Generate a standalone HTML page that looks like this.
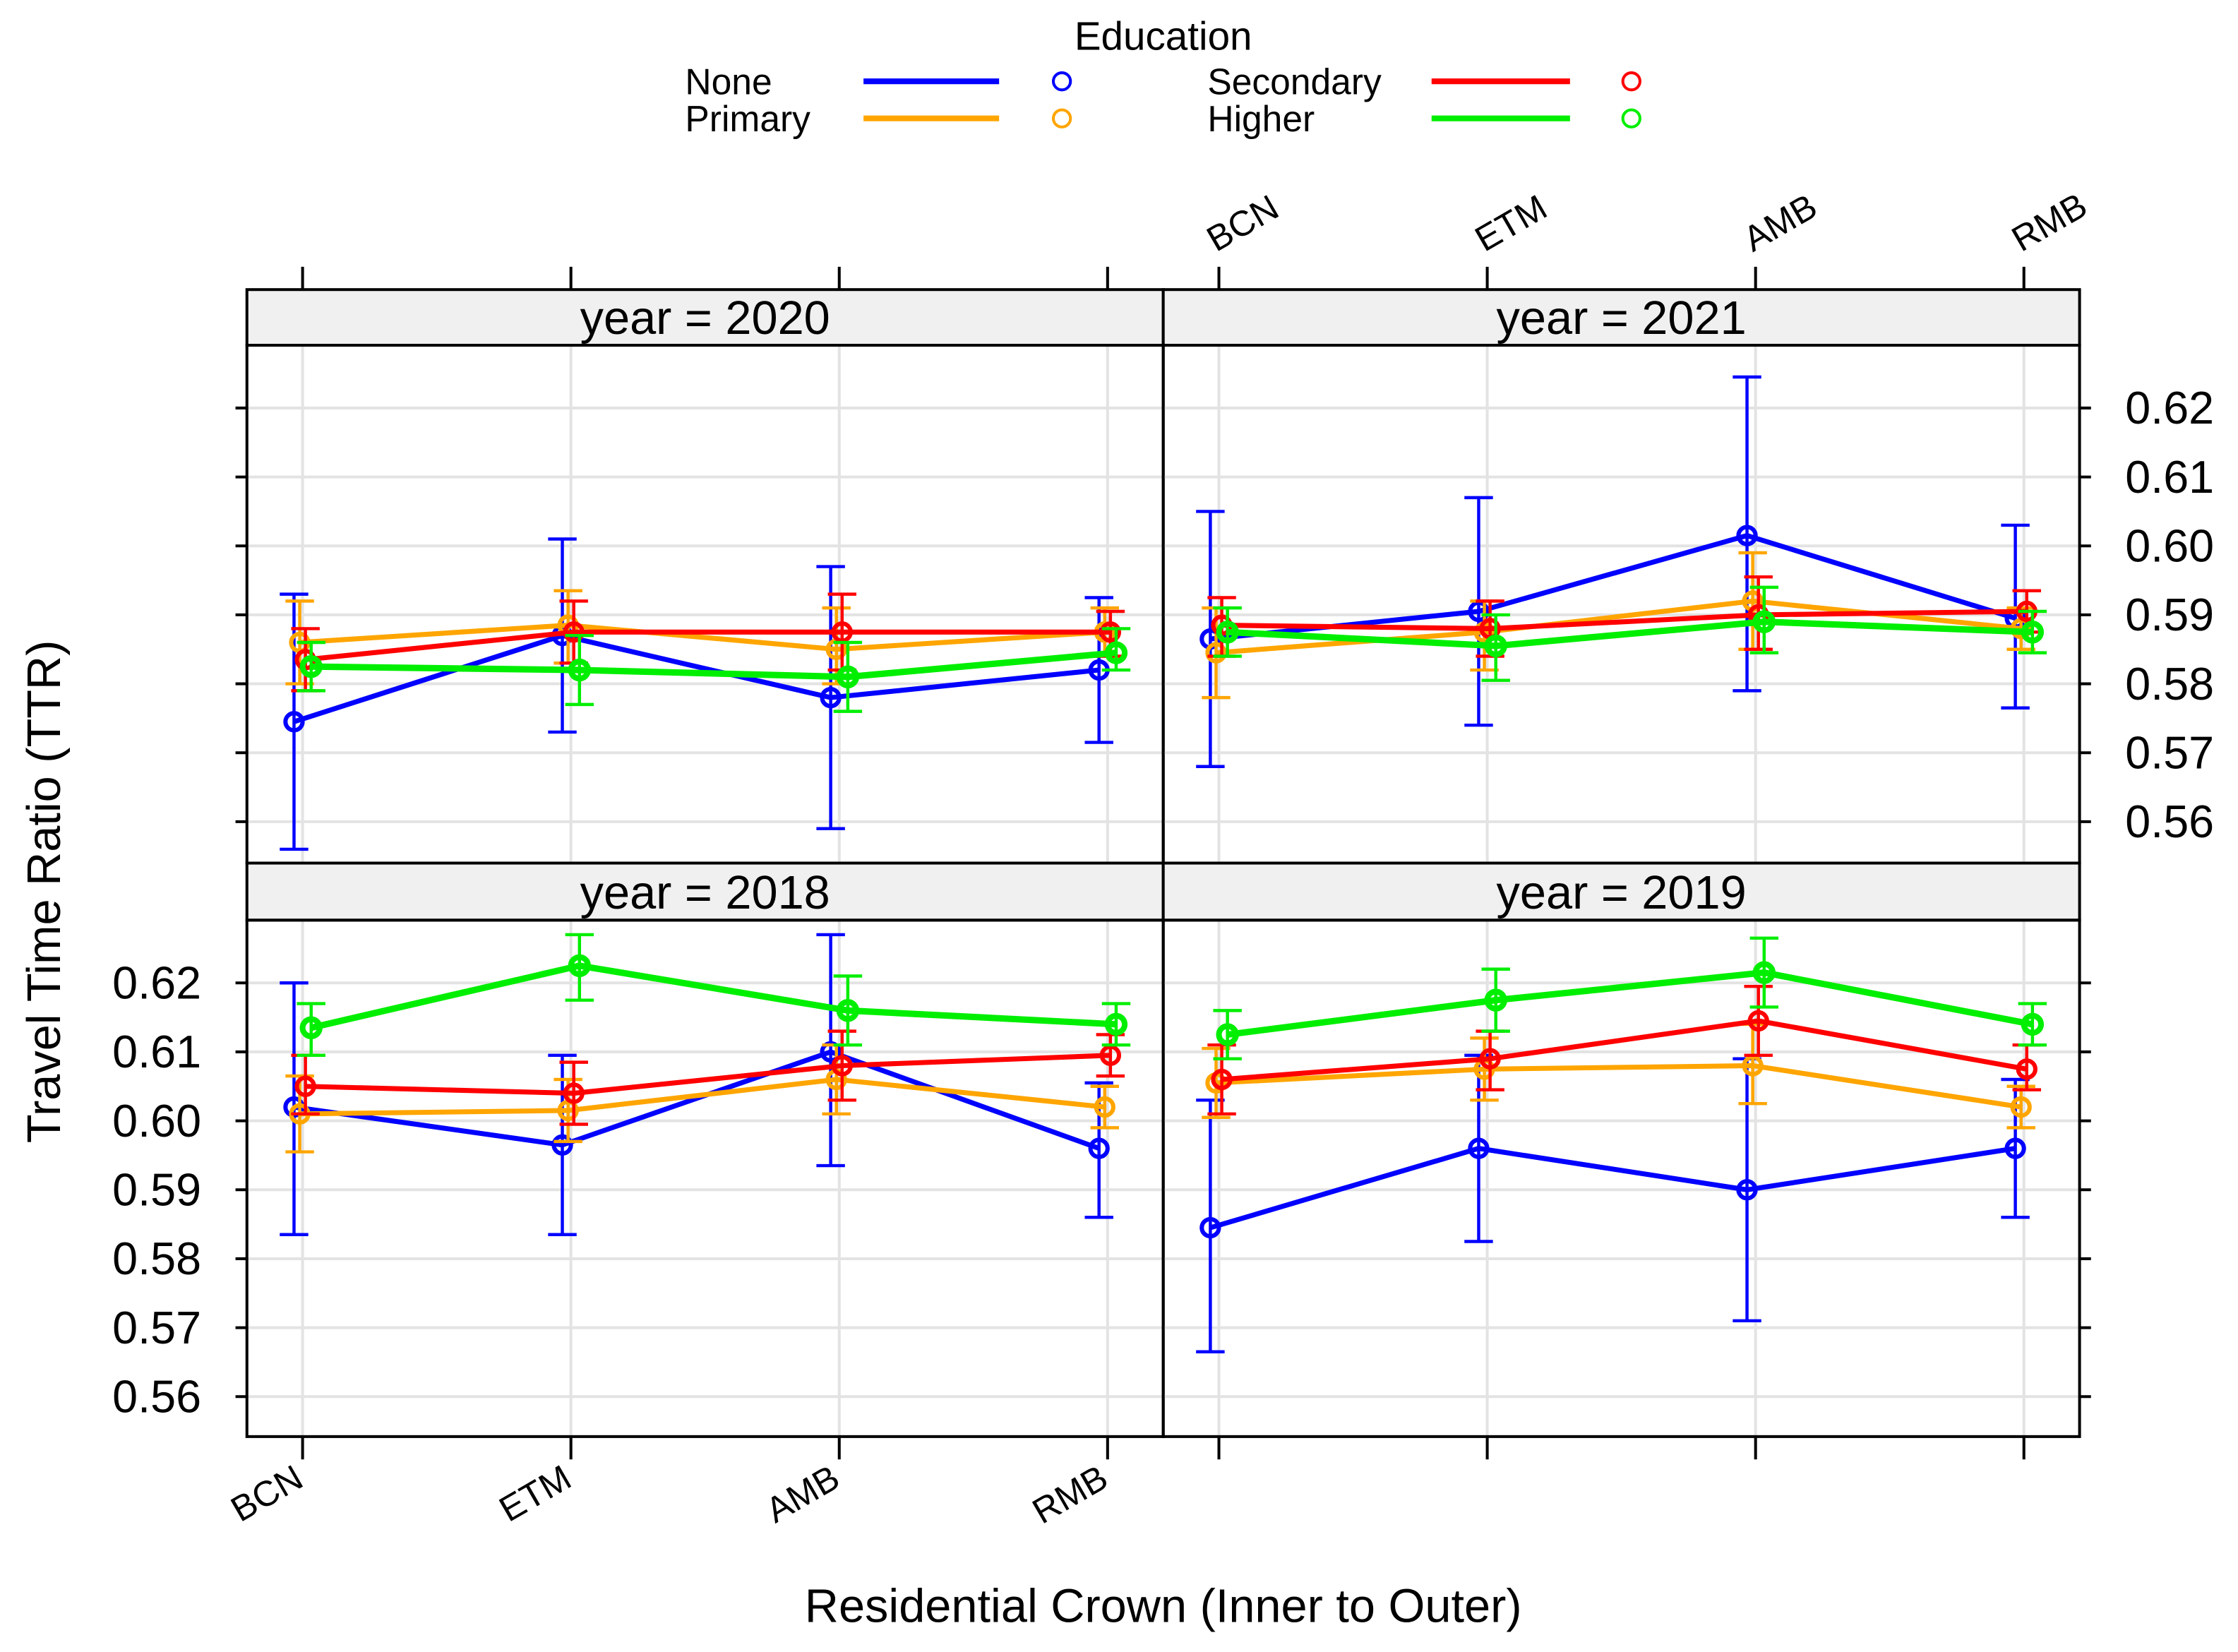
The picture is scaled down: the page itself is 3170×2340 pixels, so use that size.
<!DOCTYPE html>
<html><head><meta charset="utf-8"><style>html,body{margin:0;padding:0;background:#fff}svg{display:block}text{font-family:"Liberation Sans",Arial,sans-serif}</style></head>
<body>
<svg id="chart" width="3170" height="2340" viewBox="0 0 1568 1158" preserveAspectRatio="none" xmlns="http://www.w3.org/2000/svg">
<g id="legend">
<text x="815" y="35" font-size="28" text-anchor="middle">Education</text>
<g><text x="480" y="66" font-size="25.5">None</text><line x1="605" y1="57" x2="700" y2="57" stroke="#0000ff" stroke-width="4"/><circle cx="744" cy="57" r="6" fill="none" stroke="#0000ff" stroke-width="2"/></g>
<g><text x="480" y="92" font-size="25.5">Primary</text><line x1="605" y1="83" x2="700" y2="83" stroke="#ffa500" stroke-width="4"/><circle cx="744" cy="83" r="6" fill="none" stroke="#ffa500" stroke-width="2"/></g>
<g><text x="846" y="66" font-size="25.5">Secondary</text><line x1="1003" y1="57" x2="1100" y2="57" stroke="#ff0000" stroke-width="4"/><circle cx="1143" cy="57" r="6" fill="none" stroke="#ff0000" stroke-width="2"/></g>
<g><text x="846" y="92" font-size="25.5">Higher</text><line x1="1003" y1="83" x2="1100" y2="83" stroke="#00ee00" stroke-width="4"/><circle cx="1143" cy="83" r="6" fill="none" stroke="#00ee00" stroke-width="2"/></g>
</g>
<text x="42" y="625" font-size="33" text-anchor="middle" transform="rotate(-90 42 625)">Travel Time Ratio (TTR)</text>
<text x="815" y="1137" font-size="33" text-anchor="middle">Residential Crown (Inner to Outer)</text>
<g id="plot"></g>
</svg>
<script>
const categories = ["BCN","ETM","AMB","RMB"];
const seriesNames = ["None","Primary","Secondary","Higher"];
const yTicks = [0.56,0.57,0.58,0.59,0.60,0.61,0.62];
const yTickLabels = ["0.56","0.57","0.58","0.59","0.60","0.61","0.62"];
const panelYears = ["2020","2021","2018","2019"];
// values per panel: [None, Primary, Secondary, Higher]
const y2020 = [[0.5745,0.587,0.578,0.582],[0.586,0.5885,0.585,0.5875],[0.5835,0.5875,0.5875,0.5875],[0.5825,0.582,0.581,0.5845]];
const lo2020 = [[0.556,0.573,0.559,0.5715],[0.580,0.583,0.580,0.584],[0.579,0.583,0.582,0.584],[0.579,0.577,0.576,0.582]];
const hi2020 = [[0.593,0.601,0.597,0.5925],[0.592,0.5935,0.591,0.591],[0.588,0.592,0.593,0.5905],[0.586,0.587,0.586,0.588]];
const y2021 = [[0.5865,0.5905,0.6015,0.5895],[0.5845,0.5875,0.592,0.588],[0.5885,0.588,0.590,0.5905],[0.5875,0.5855,0.589,0.5875]];
const lo2021 = [[0.568,0.574,0.579,0.5765],[0.578,0.582,0.585,0.585],[0.584,0.584,0.585,0.5875],[0.584,0.5805,0.5845,0.5845]];
const hi2021 = [[0.605,0.607,0.6245,0.603],[0.591,0.592,0.599,0.591],[0.5925,0.592,0.5955,0.5935],[0.591,0.590,0.594,0.5905]];
const y2018 = [[0.602,0.5965,0.610,0.596],[0.601,0.6015,0.606,0.602],[0.605,0.604,0.608,0.6095],[0.6135,0.6225,0.616,0.614]];
const lo2018 = [[0.5835,0.5835,0.5935,0.586],[0.5955,0.597,0.601,0.599],[0.601,0.5995,0.603,0.6065],[0.6095,0.6175,0.611,0.611]];
const hi2018 = [[0.620,0.6095,0.627,0.6055],[0.6065,0.606,0.611,0.605],[0.6095,0.6085,0.613,0.6125],[0.617,0.627,0.621,0.617]];
const y2019 = [[0.5845,0.596,0.590,0.596],[0.6055,0.6075,0.608,0.602],[0.606,0.609,0.6145,0.6075],[0.6125,0.6175,0.6215,0.614]];
const lo2019 = [[0.5665,0.5825,0.571,0.586],[0.6005,0.603,0.6025,0.599],[0.601,0.6045,0.6095,0.6045],[0.609,0.613,0.6165,0.611]];
const hi2019 = [[0.603,0.6095,0.609,0.606],[0.6105,0.612,0.614,0.605],[0.611,0.613,0.6195,0.611],[0.616,0.622,0.6265,0.617]];

const colors = ["#0000ff","#ffa500","#ff0000","#00ee00"];
const dodge = [-6,-2,2,6];
const NS = "http://www.w3.org/2000/svg";
const plot = document.getElementById("plot");
function mk(tag, attrs, parent){const e=document.createElementNS(NS,tag);for(const k in attrs)e.setAttribute(k,attrs[k]);(parent||plot).appendChild(e);return e;}

const panels = [
 {x0:173,x1:815,s0:203,p0:242,p1:605,vals:y2020,lo:lo2020,hi:hi2020},
 {x0:815,x1:1457,s0:203,p0:242,p1:605,vals:y2021,lo:lo2021,hi:hi2021},
 {x0:173,x1:815,s0:605,p0:645,p1:1007,vals:y2018,lo:lo2018,hi:hi2018},
 {x0:815,x1:1457,s0:605,p0:645,p1:1007,vals:y2019,lo:lo2019,hi:hi2019}
];
panels.forEach((P,pi)=>{
  const xS = i => P.x0 + 39 + 188*i;
  const yS = v => P.p0 + 44 + (0.62 - v)*4833;
  const g = mk("g",{});
  
  
  categories.forEach((c,i)=>{const l=mk("line",{x1:xS(i),x2:xS(i),y1:P.p0,y2:P.p1,stroke:"#e3e3e3","stroke-width":2},g);});
  yTicks.forEach(t=>{const l=mk("line",{x1:P.x0,x2:P.x1,y1:yS(t),y2:yS(t),stroke:"#e3e3e3","stroke-width":2},g);});
  for(let s=0;s<4;s++){
    const sg = mk("g",{},g);
    
    
    const pts = P.vals[s].map((v,i)=>(xS(i)+dodge[s])+","+yS(v)).join(" ");
    const pl = mk("polyline",{points:pts,fill:"none",stroke:colors[s],"stroke-width":s==3?4.5:3.5},sg);
    
    
    P.vals[s].forEach((v,i)=>{
      const x = xS(i)+dodge[s];
      const eb = mk("path",{d:`M${x},${yS(P.lo[s][i])}V${yS(P.hi[s][i])}M${x-10},${yS(P.lo[s][i])}H${x+10}M${x-10},${yS(P.hi[s][i])}H${x+10}`,stroke:colors[s],"stroke-width":2.2,fill:"none"},sg);
      
      
      const c = mk("circle",{cx:x,cy:yS(v),r:6,fill:"none",stroke:colors[s],"stroke-width":s==3?4:3},sg);
      
      
    });
  }
  const st = mk("rect",{x:P.x0,y:P.s0,width:P.x1-P.x0,height:P.p0-P.s0,fill:"#f0f0f0",stroke:"#000","stroke-width":2},g);
  
  
  const stt = mk("text",{x:(P.x0+P.x1)/2,y:P.p0-8,"font-size":33,"text-anchor":"middle"},g);
  stt.textContent = "year = "+panelYears[pi];
  
  
  const fr = mk("rect",{x:P.x0,y:P.p0,width:P.x1-P.x0,height:P.p1-P.p0,fill:"none",stroke:"#000","stroke-width":2},g);
  
  
  const left = pi%2==0, top = pi<2;
  yTicks.forEach((t,k)=>{
    if(left){mk("line",{x1:P.x0-8,x2:P.x0,y1:yS(t),y2:yS(t),stroke:"#000","stroke-width":2},g);}
    else{mk("line",{x1:P.x1,x2:P.x1+8,y1:yS(t),y2:yS(t),stroke:"#000","stroke-width":2},g);}
    if(left && !top){const tx=mk("text",{x:P.x0-32,y:yS(t)+11,"font-size":32,"text-anchor":"end"},g);tx.textContent=yTickLabels[k];}
    if(!left && top){const tx=mk("text",{x:P.x1+32,y:yS(t)+11,"font-size":32,"text-anchor":"start"},g);tx.textContent=yTickLabels[k];}
  });
  categories.forEach((c,i)=>{
    if(top){mk("line",{x1:xS(i),x2:xS(i),y1:P.s0-16,y2:P.s0,stroke:"#000","stroke-width":2},g);}
    else{mk("line",{x1:xS(i),x2:xS(i),y1:P.p1,y2:P.p1+16,stroke:"#000","stroke-width":2},g);}
    if(top && !left){const tx=mk("text",{x:xS(i)-2,y:P.s0-26,"font-size":25,transform:`rotate(-30 ${xS(i)-2} ${P.s0-26})`},g);tx.textContent=c;}
    if(!top && left){const tx=mk("text",{x:xS(i)+2,y:P.p1+34,"font-size":25,"text-anchor":"end",transform:`rotate(-30 ${xS(i)+2} ${P.p1+34})`},g);tx.textContent=c;}
  });
});
</script>
</body></html>
